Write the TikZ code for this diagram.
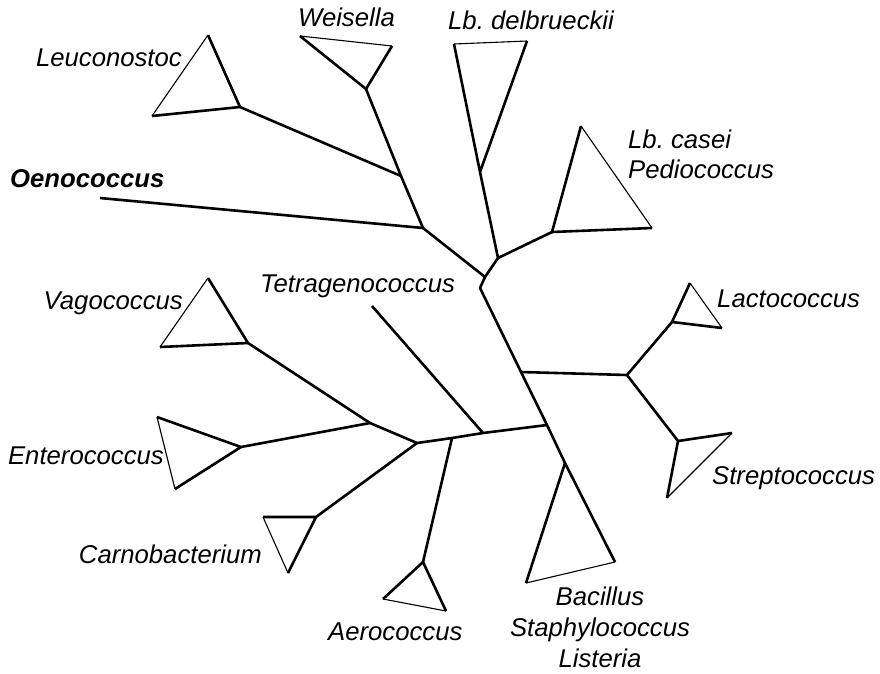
\documentclass[tikz,border=0pt]{standalone}
\usepackage{fontspec}
\setmainfont{Liberation Sans}
\usepackage{tikz}

\begin{document}
\begin{tikzpicture}[x=1pt,y=-1pt,
  br/.style={line width=2.6pt,line join=round},
  fan/.style={line width=1.1pt},
  lab/.style={inner sep=0pt,font=\fontsize{25.7}{31}\selectfont\itshape}]
  \useasboundingbox (0,0) rectangle (880,673);
  % inner points of the tree
  \coordinate (n1) at (401,176);  \coordinate (n2) at (423,228);
  \coordinate (n3) at (485,277);  \coordinate (n4) at (498,258);
  \coordinate (n5) at (480,288);  \coordinate (n6) at (521,372);
  \coordinate (n7) at (627,375);  \coordinate (n8) at (547,425);
  \coordinate (n9) at (483,433);  \coordinate (n10) at (452,438);
  \coordinate (n11) at (417,443); \coordinate (n12) at (370,423);
  \coordinate (oen) at (100,198); \coordinate (tetE) at (372,306);
  % collapsed clades: two far corners and the attach point
  \coordinate (leuT) at (208,35);  \coordinate (leuL) at (152,116); \coordinate (leuA) at (240,107);
  \coordinate (weiL) at (300,36);  \coordinate (weiR) at (392,46);  \coordinate (weiA) at (366,89);
  \coordinate (delL) at (454,44);  \coordinate (delR) at (527,41);  \coordinate (delA) at (480,172);
  \coordinate (casT) at (581,126); \coordinate (casR) at (652,228); \coordinate (casA) at (552,232);
  \coordinate (lacT) at (690,283); \coordinate (lacR) at (722,328); \coordinate (lacA) at (672,322);
  \coordinate (strR) at (732,433); \coordinate (strB) at (667,498); \coordinate (strA) at (678,441);
  \coordinate (bacL) at (526,583); \coordinate (bacR) at (615,562); \coordinate (bacA) at (565,463);
  \coordinate (aerL) at (383,599); \coordinate (aerR) at (446,611); \coordinate (aerA) at (423,562);
  \coordinate (carL) at (263,517); \coordinate (carB) at (288,573); \coordinate (carA) at (316,517);
  \coordinate (entT) at (157,417); \coordinate (entB) at (175,489); \coordinate (entA) at (241,447);
  \coordinate (vagT) at (208,278); \coordinate (vagL) at (160,347); \coordinate (vagA) at (248,343);
  \foreach \p/\q/\r in {leuT/leuL/leuA,weiL/weiR/weiA,delL/delR/delA,casT/casR/casA,
      lacT/lacR/lacA,strR/strB/strA,bacL/bacR/bacA,aerL/aerR/aerA,carL/carB/carA,
      entT/entB/entA,vagT/vagL/vagA}{
    \draw[fan] (\p) -- (\q);
    \draw[br] (\p) -- (\r) -- (\q);
  }
  % branches
  \draw[br] (weiA) -- (n1) -- (n2) -- (n3) -- (n5) -- (n6) -- (n8) -- (bacA);
  \draw[br] (leuA) -- (n1);
  \draw[br] (oen) -- (n2);
  \draw[br] (n3) -- (n4) -- (casA);
  \draw[br] (delA) -- (n4);
  \draw[br] (n6) -- (n7) -- (lacA);
  \draw[br] (n7) -- (strA);
  \draw[br] (vagA) -- (n12) -- (n11) -- (n10) -- (n9) -- (n8);
  \draw[br] (entA) -- (n12);
  \draw[br] (tetE) -- (n9);
  \draw[br] (n10) -- (aerA);
  \draw[br] (n11) -- (carA);
  % labels
  \node[lab,anchor=base east] (leu) at (182,66) {Leuconostoc};
  \node[lab,anchor=base west] (wei) at (298,26) {Weisella};
  \node[lab,anchor=base west] (del) at (448,29) {Lb.\ delbrueckii};
  \node[lab,anchor=base west] (cas) at (628,148) {Lb.\ casei};
  \node[lab,anchor=base west] (ped) at (628,178) {Pediococcus};
  \node[lab,anchor=base west,font=\fontsize{25.7}{31}\selectfont\bfseries\itshape] (oe) at (10,187) {Oenococcus};
  \node[lab,anchor=base west] (tet) at (260,292) {Tetragenococcus};
  \node[lab,anchor=base east] (vag) at (183,309) {Vagococcus};
  \node[lab,anchor=base east] (ent) at (164,464) {Enterococcus};
  \node[lab,anchor=base west] (lac) at (717,307) {Lactococcus};
  \node[lab,anchor=base west] (str) at (712,484) {Streptococcus};
  \node[lab,anchor=base east] (car) at (262,563) {Carnobacterium};
  \node[lab,anchor=base west] (aer) at (328,640) {Aerococcus};
  \node[lab,anchor=base] (bac) at (600,605) {Bacillus};
  \node[lab,anchor=base] (sta) at (600,636) {Staphylococcus};
  \node[lab,anchor=base] (lis) at (600,667) {Listeria};
\end{tikzpicture}
\end{document}
